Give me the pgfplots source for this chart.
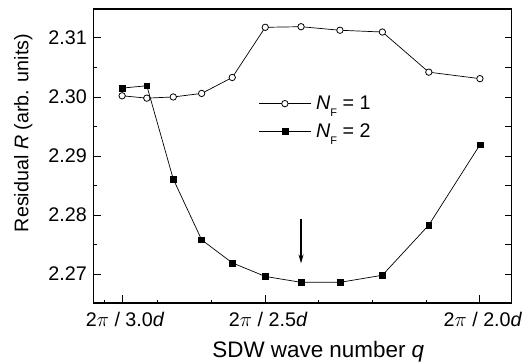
\documentclass[border=0pt]{standalone}
\usepackage{fontspec}
\setmainfont{Liberation Sans}
\usepackage{pgfplots}
\pgfplotsset{compat=1.18}
\usetikzlibrary{arrows.meta}

\begin{document}
\begin{tikzpicture}[font=\fontsize{19.8}{23}\selectfont]
\useasboundingbox (0,0) rectangle (523bp,364bp);
\begin{axis}[
  at={(93.3bp,61bp)}, anchor=south west,
  scale only axis, width=418.4bp, height=294bp,
  xmin=0.3199, xmax=0.5148, ymin=2.2651, ymax=2.3149,
  axis line style={line width=1.1bp},
  tick align=inside, xtick pos=left, ytick pos=left,
  xtick={0.33333,0.4,0.5},
  xticklabels={2$\pi$ / 3.0\textit{d}, 2$\pi$ / 2.5\textit{d}, 2$\pi$ / 2.0\textit{d}},
  minor xtick={0.325,0.35,0.375,0.425,0.45,0.475},
  ytick={2.27,2.28,2.29,2.30,2.31},
  yticklabels={2.27,2.28,2.29,2.30,2.31},
  minor ytick={2.275,2.285,2.295,2.305},
  major tick length=8bp, minor tick length=3.5bp,
  every tick/.style={black, line width=0.9bp},
  xticklabel style={anchor=base, yshift=-23.7bp, xshift=3bp},
  yticklabel style={anchor=east, inner sep=0pt, xshift=-6.3bp},
  xlabel={SDW wave number \textit{q}},
  ylabel={Residual \textit{R} (arb. units)},
  xlabel style={at={(axis description cs:0.5378,-0.1847)}, anchor=base,
    font=\fontsize{22.5}{26}\selectfont},
  ylabel style={at={(axis description cs:-0.155,0.578)}, anchor=base},
  legend style={draw=none, fill=none, inner sep=0pt,
    at={(axis description cs:0.3944,0.7044)}, anchor=north west,
    row sep=12.8bp, column sep=5bp, nodes={inner sep=0pt}},
  legend cell align=left,
  legend image code/.code={\draw[mark repeat=2,mark phase=2] plot coordinates {(0bp,0bp) (26bp,0bp) (52bp,0bp)};},
]
% N_F = 1
\addplot[black, line width=0.7bp, mark=*, mark size=3.2bp,
  mark options={fill=white, line width=0.8bp}] coordinates {
  (0.33333,2.3002) (0.34483,2.2998) (0.35714,2.3000) (0.37037,2.3006)
  (0.38462,2.3033) (0.40000,2.3118) (0.41667,2.3119) (0.43478,2.3113)
  (0.45455,2.3110) (0.47619,2.3042) (0.50000,2.3031)};
\addlegendentry{\textit{N}\raisebox{-0.35em}[0pt][0pt]{\fontsize{11}{11}\selectfont F} = 1}
% N_F = 2
\addplot[black, line width=0.7bp, mark=square*, mark size=2.9bp,
  mark options={fill=black, line width=0.5bp}] coordinates {
  (0.33333,2.3015) (0.34483,2.3019) (0.35714,2.2861) (0.37037,2.2758)
  (0.38462,2.2719) (0.40000,2.2696) (0.41667,2.2686) (0.43478,2.2686)
  (0.45455,2.2698) (0.47619,2.2783) (0.50000,2.2919)};
\addlegendentry{\textit{N}\raisebox{-0.35em}[0pt][0pt]{\fontsize{11}{11}\selectfont F} = 2}
% minimum marker
\draw[line width=1.4bp, -{Stealth[length=9bp, width=5bp]}]
  (axis cs:0.41667,2.2793) -- (axis cs:0.41667,2.2718);
\end{axis}
% ticks on the top and right edges
\begin{axis}[
  at={(93.3bp,61bp)}, anchor=south west,
  scale only axis, width=418.4bp, height=294bp,
  xmin=0.3199, xmax=0.5148, ymin=2.2651, ymax=2.3149,
  axis line style={line width=1.1bp},
  tick align=inside, xtick pos=right, ytick pos=right,
  xtick=\empty,
  minor xtick={0.325,0.35,0.375,0.4,0.425,0.45,0.475,0.5},
  ytick={2.27,2.275,2.28,2.285,2.29,2.295,2.30,2.305,2.31},
  xticklabels={}, yticklabels={},
  major tick length=7bp, minor tick length=3bp,
  every tick/.style={black, line width=0.9bp},
]
\end{axis}
\end{tikzpicture}
\end{document}
